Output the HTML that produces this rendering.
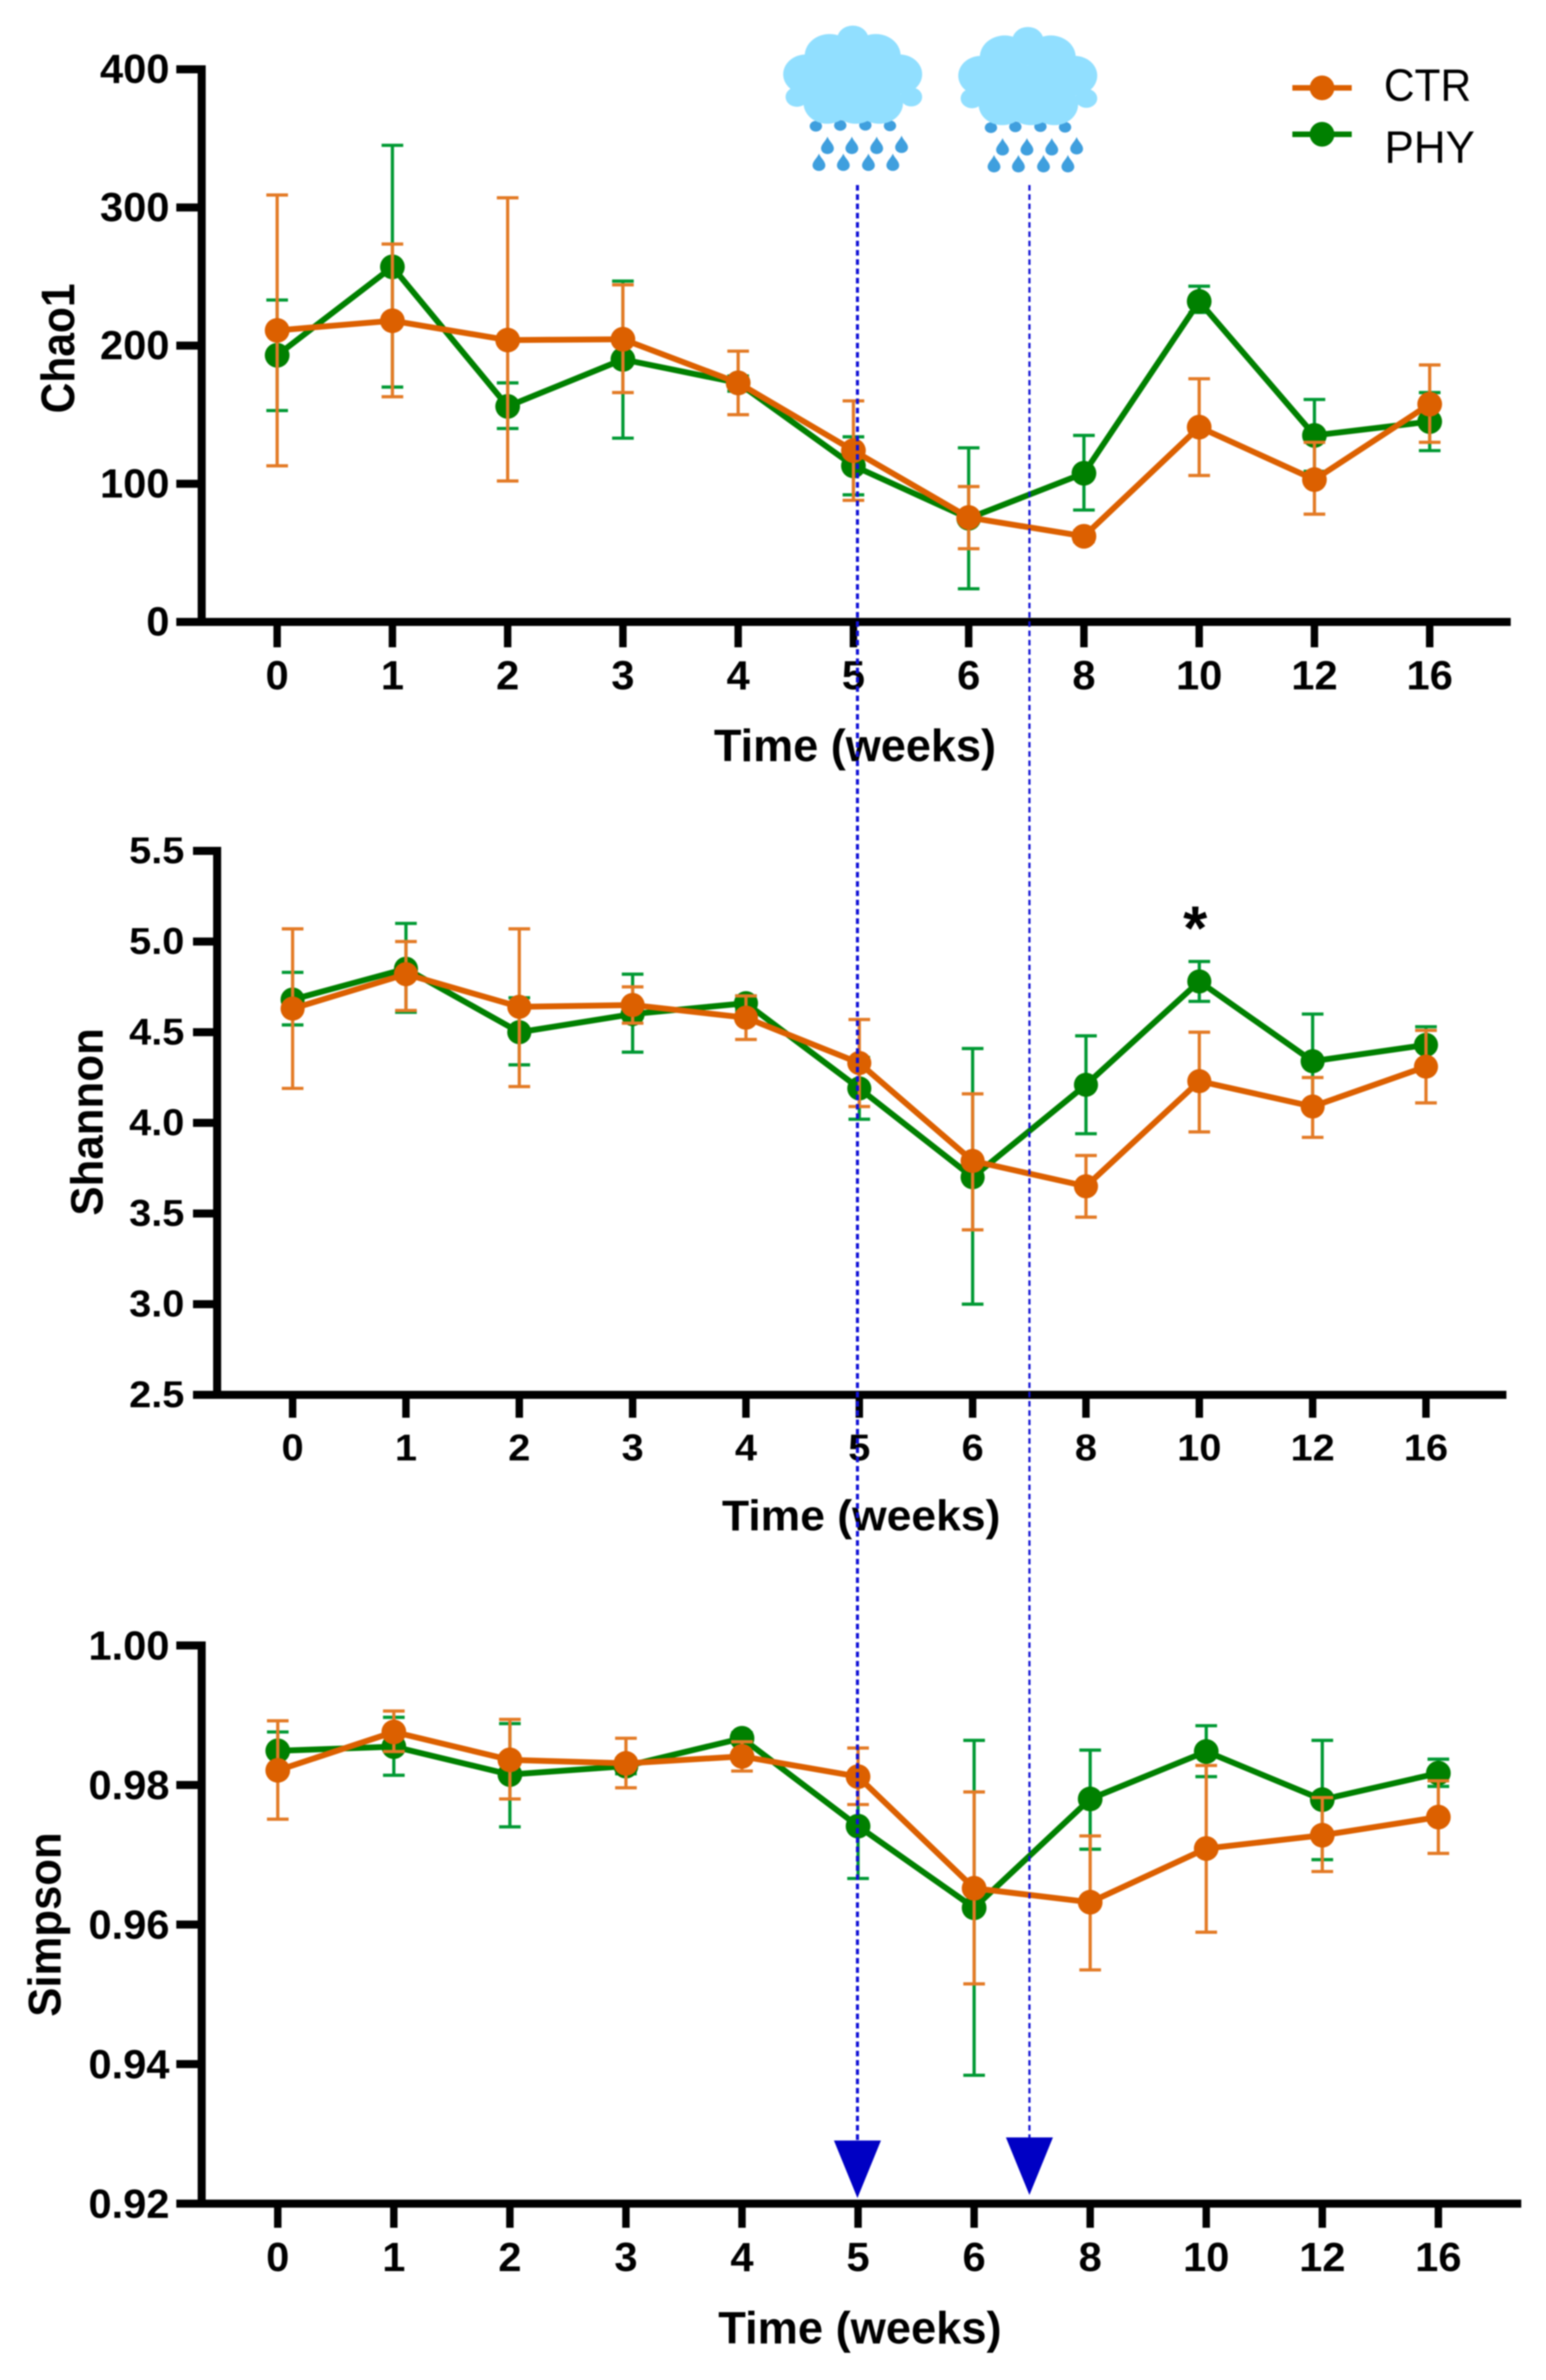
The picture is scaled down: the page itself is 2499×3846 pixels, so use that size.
<!DOCTYPE html>
<html lang="en">
<head>
<meta charset="utf-8">
<title>Alpha diversity over time</title>
<style>
html,body{margin:0;padding:0;background:#fff;}
body{width:2499px;height:3846px;overflow:hidden;}
svg{display:block;filter:blur(1px);}
text{font-family:"Liberation Sans",Arial,sans-serif;fill:#000;}
</style>
</head>
<body>
<svg id="figure" xmlns="http://www.w3.org/2000/svg" width="2499" height="3846" viewBox="0 0 2499 3846">
<rect width="2499" height="3846" fill="#fff"/>
</svg>
<script>
// ---- chart data ----
const weeks = ['0','1','2','3','4','5','6','8','10','12','16'];
const seriesNames = ['PHY','CTR'];

const chao1Ticks = [0,100,200,300,400];
const chao1Phy     = [193,257,156,190,173,113,75,107.6,232,135,145];
const chao1PhyHigh = [233,345,173,246.7,178,134,126,135,243,161,166];
const chao1PhyLow  = [153,170,140,133,167,92,24,81,224,109,124];
const chao1Ctr     = [211,218,204,204.6,173,124,75.6,62,141,103,157.6];
const chao1CtrHigh = [309,273.5,307,244,196,160,98,66,176,130,186];
const chao1CtrLow  = [113,163,102,166,150,88,53,58,106,78,130];

const shannonTicks = [2.5,3.0,3.5,4.0,4.5,5.0,5.5];
const shannonPhy     = [4.68,4.85,4.50,4.60,4.66,4.19,3.70,4.21,4.78,4.34,4.43];
const shannonPhyHigh = [4.83,5.10,4.69,4.82,4.70,4.36,4.41,4.48,4.89,4.60,4.53];
const shannonPhyLow  = [4.54,4.61,4.32,4.39,4.62,4.02,3.00,3.94,4.67,4.08,4.33];
const shannonCtr     = [4.63,4.82,4.64,4.65,4.58,4.33,3.79,3.65,4.23,4.09,4.31];
const shannonCtrHigh = [5.07,5.00,5.07,4.75,4.70,4.57,4.16,3.82,4.50,4.25,4.51];
const shannonCtrLow  = [4.19,4.62,4.20,4.55,4.46,4.09,3.41,3.48,3.95,3.92,4.11];

const simpsonTicks = [0.92,0.94,0.96,0.98,1.00];
const simpsonPhy     = [0.9849,0.9855,0.9815,0.9827,0.9867,0.9741,0.9624,0.9780,0.9848,0.9779,0.9817];
const simpsonPhyHigh = [0.9876,0.9897,0.9888,0.9838,0.9875,0.9815,0.9864,0.9850,0.9885,0.9864,0.9837];
const simpsonPhyLow  = [0.9822,0.9814,0.9740,0.9816,0.9860,0.9666,0.9384,0.9708,0.9812,0.9693,0.9798];
const simpsonCtr     = [0.9821,0.9876,0.9836,0.9831,0.9841,0.9812,0.9652,0.9632,0.9709,0.9728,0.9754];
const simpsonCtrHigh = [0.9892,0.9906,0.9894,0.9867,0.9862,0.9853,0.9790,0.9727,0.9828,0.9782,0.9806];
const simpsonCtrLow  = [0.9751,0.9848,0.9780,0.9796,0.9820,0.9772,0.9515,0.9535,0.9589,0.9676,0.9702];

// ---- layout ----
const NS = 'http://www.w3.org/2000/svg';
const fig = document.getElementById('figure');
const ORANGE = '#dc6000', ORANGE_ERR = '#e37a25', GREEN = '#008000', GREEN_ERR = '#009933';

function svgEl(tag, parent, attrs, text) {
  const el = document.createElementNS(NS, tag);
  for (const k in attrs) el.setAttribute(k, attrs[k]);
  if (text !== undefined) el.textContent = text;
  parent.appendChild(el);
  return el;
}

const panels = [
  {key:'chao1', title:'Chao1', ticks:chao1Ticks, dec:0, min:0, max:400,
   top:112, bottom:1005, axisX:326, tickLeft:285, labelRight:274, x0:448, step:186.3, xEnd:2442, xTickEnd:1046,
   xLabelBase:1114, yLabelOff:22, font:66, sx:1.02, titleBase:1230, titleX:1382, titleLen:456, titleFont:73,
   yTitleX:120, yTitleY:563, yTitleLen:210, yTitleFont:76, r:20,
   phy:[chao1Phy,chao1PhyHigh,chao1PhyLow], ctr:[chao1Ctr,chao1CtrHigh,chao1CtrLow]},
  {key:'shannon', title:'Shannon', ticks:shannonTicks, dec:1, min:2.5, max:5.5,
   top:1375, bottom:2254, axisX:351, tickLeft:312, labelRight:298, x0:473, step:183.2, xEnd:2435, xTickEnd:2291,
   xLabelBase:2360, yLabelOff:20, font:60, sx:1.07, titleBase:2473, titleX:1392, titleLen:450, titleFont:70,
   yTitleX:166, yTitleY:1813, yTitleLen:303, yTitleFont:73, r:19.5,
   phy:[shannonPhy,shannonPhyHigh,shannonPhyLow], ctr:[shannonCtr,shannonCtrHigh,shannonCtrLow]},
  {key:'simpson', title:'Simpson', ticks:simpsonTicks, dec:2, min:0.92, max:1.00,
   top:2659, bottom:3561, axisX:326, tickLeft:285, labelRight:274, x0:449, step:187.6, xEnd:2459, xTickEnd:3600,
   xLabelBase:3670, yLabelOff:23, font:66, sx:1.02, titleBase:3787, titleX:1390, titleLen:458, titleFont:73,
   yTitleX:98, yTitleY:3110, yTitleLen:298, yTitleFont:74, r:20,
   phy:[simpsonPhy,simpsonPhyHigh,simpsonPhyLow], ctr:[simpsonCtr,simpsonCtrHigh,simpsonCtrLow]}
];

function xScale(p, i) { return p.x0 + p.step * i; }
function yScale(p, v) { return p.bottom - (v - p.min) / (p.max - p.min) * (p.bottom - p.top); }

function drawSeries(p, g, name, vals, colour, errColour) {
  const sg = svgEl('g', g, {});
  
  
  vals[0].forEach(function (v, i) {
    const x = xScale(p, i), hi = yScale(p, vals[1][i]), lo = yScale(p, vals[2][i]);
    const bar = svgEl('path', sg, {d:'M'+x+' '+hi+'V'+lo+'M'+(x-17.5)+' '+hi+'H'+(x+17.5)+'M'+(x-17.5)+' '+lo+'H'+(x+17.5),
      fill:'none', stroke:errColour, 'stroke-width':5.2});
    
    
  });
  const pts = vals[0].map(function (v, i) { return xScale(p, i) + ',' + yScale(p, v); }).join(' ');
  const line = svgEl('polyline', sg, {points:pts, fill:'none', stroke:colour, 'stroke-width':9.5, 'stroke-linejoin':'round'});
  
  
  vals[0].forEach(function (v, i) {
    const c = svgEl('circle', sg, {cx:xScale(p, i), cy:yScale(p, v), r:p.r, fill:colour});
    
    
  });
}

panels.forEach(function (p) {
  const g = svgEl('g', fig, {});
  
  

  drawSeries(p, g, 'phy', p.phy, GREEN, GREEN_ERR);
  drawSeries(p, g, 'ctr', p.ctr, ORANGE, ORANGE_ERR);

  const yAxis = svgEl('line', g, {x1:p.axisX, x2:p.axisX, y1:p.top-6.5, y2:p.bottom+6.5, stroke:'#000', 'stroke-width':13});
  
  
  const xAxis = svgEl('line', g, {x1:p.axisX, x2:p.xEnd, y1:p.bottom, y2:p.bottom, stroke:'#000', 'stroke-width':13});
  
  

  p.ticks.forEach(function (t) {
    const y = yScale(p, t);
    const tk = svgEl('line', g, {x1:p.tickLeft, x2:p.axisX, y1:y, y2:y, stroke:'#000', 'stroke-width':13});
    
    
    const lb = svgEl('text', g, {transform:'translate('+p.labelRight+','+(y+p.yLabelOff)+') scale('+p.sx+',1)',
      'text-anchor':'end', 'font-size':p.font, 'font-weight':'bold'}, t.toFixed(p.dec));
    
    
  });

  weeks.forEach(function (w, i) {
    const x = xScale(p, i);
    const tk = svgEl('line', g, {x1:x, x2:x, y1:p.bottom, y2:p.xTickEnd, stroke:'#000', 'stroke-width':12});
    
    
    const lb = svgEl('text', g, {transform:'translate('+x+','+p.xLabelBase+') scale('+p.sx+',1)',
      'text-anchor':'middle', 'font-size':p.font, 'font-weight':'bold'}, w);
    
    
  });

  const xt = svgEl('text', g, {x:p.titleX, y:p.titleBase, 'text-anchor':'middle', 'font-size':p.titleFont, 'font-weight':'bold',
    textLength:p.titleLen, lengthAdjust:'spacingAndGlyphs'}, 'Time (weeks)');
  
  
  const yt = svgEl('text', g, {transform:'translate('+p.yTitleX+','+p.yTitleY+') rotate(-90)', 'text-anchor':'middle',
    'font-size':p.yTitleFont, 'font-weight':'bold', textLength:p.yTitleLen, lengthAdjust:'spacingAndGlyphs'}, p.title);
  
  
});

// significance marker
const star = svgEl('text', fig, {x:1932, y:1534, 'text-anchor':'middle', 'font-size':100, 'font-weight':'bold'}, '*');



// rain events: dashed guides and arrowheads
const guides = [
  {x:1386, w:5, y2:3460, tri:[[1348,3459],[1424,3459],[1386,3552]], name:'first'},
  {x:1664, w:3.5, y2:3456, tri:[[1626,3454],[1702,3454],[1664,3547]], name:'second'}
];
guides.forEach(function (r) {
  const l = svgEl('line', fig, {x1:r.x, x2:r.x, y1:299, y2:r.y2, stroke:'#1212d6', 'stroke-width':r.w, 'stroke-dasharray':'9 6'});
  
  
  const t = svgEl('polygon', fig, {points:r.tri.map(function (q) { return q.join(','); }).join(' '), fill:'#0000c4'});
  
  
});

// rain cloud icons
function dropPath(cx, cy, r, h) {
  return 'M'+cx+' '+(cy-h)+'C'+(cx+6)+' '+(cy-h*0.64)+' '+(cx+r)+' '+(cy-h*0.36)+' '+(cx+r)+' '+cy+
    'A'+r+' '+r+' 0 1 1 '+(cx-r)+' '+cy+'C'+(cx-r)+' '+(cy-h*0.36)+' '+(cx-6)+' '+(cy-h*0.64)+' '+cx+' '+(cy-h)+'Z';
}
[[1230,20,'first'],[1513,22.3,'second']].forEach(function (o) {
  const g = svgEl('g', fig, {transform:'translate('+o[0]+','+o[1]+') scale(0.3827,0.3333)'});
  
  
  [[232,552],[335,548],[441,547],[545,550]].forEach(function (d) {
    svgEl('circle', g, {cx:d[0], cy:d[1], r:26, fill:'#3f9fde'});
  });
  [[281,660],[384,660],[489,660],[594,655],[245,742],[348,742],[454,742],[557,742]].forEach(function (d) {
    svgEl('path', g, {d:dropPath(d[0], d[1], 27, 58), fill:'#3f9fde'});
  });
  [[388,130,66],[290,210,105],[485,210,105],[190,300,96],[585,300,96],[152,410,48],[635,410,46],[280,440,100],[400,440,100],[500,440,100]].forEach(function (c) {
    svgEl('circle', g, {cx:c[0], cy:c[1], r:c[2], fill:'#91dfff'});
  });
  svgEl('rect', g, {x:220, y:250, width:350, height:220, fill:'#91dfff'});
});

// legend
[{n:'CTR', c:ORANGE, y:142, b:163, x:2237, len:141},{n:'PHY', c:GREEN, y:217, b:263, x:2238, len:146}].forEach(function (e) {
  const g = svgEl('g', fig, {});
  
  
  const ln = svgEl('line', g, {x1:2089, x2:2185, y1:e.y, y2:e.y, stroke:e.c, 'stroke-width':9});
  
  
  const dot = svgEl('circle', g, {cx:2137, cy:e.y, r:20, fill:e.c});
  
  
  const tx = svgEl('text', g, {x:e.x, y:e.b, 'font-size':73, textLength:e.len, lengthAdjust:'spacingAndGlyphs'}, e.n);
  
  
});
</script>
</body>
</html>
